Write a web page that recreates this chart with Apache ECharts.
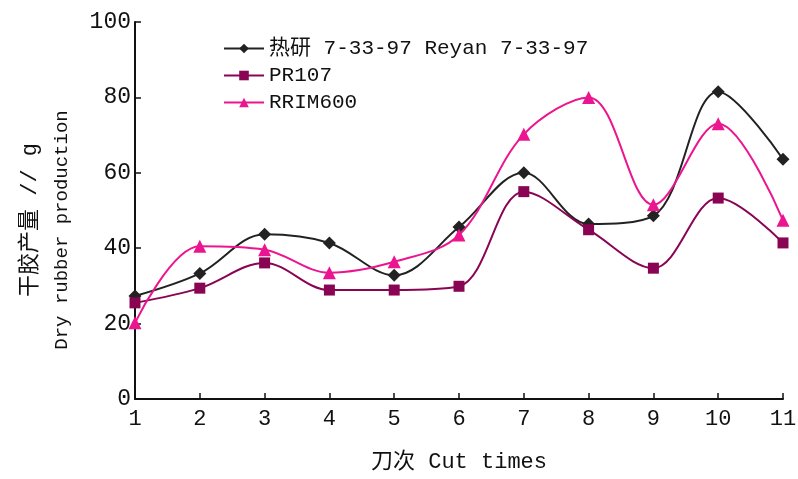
<!DOCTYPE html>
<html lang="zh">
<head>
    <meta charset="UTF-8">
    <title>干胶产量</title>
    <script src="https://cdn.jsdelivr.net/npm/echarts@6/dist/echarts.min.js"></script>
    <style>
        html, body { margin: 0; padding: 0; background: #fff; }
        #main { width: 798px; height: 479px; }
    </style>
</head>
<body>
    <div id="main"></div>
    <script>
        // 刀次
        var cutTimes = ['1', '2', '3', '4', '5', '6', '7', '8', '9', '10', '11'];
        // 各品系干胶产量 (g)
        var reyan = [27.3, 33.3, 43.7, 41.4, 32.8, 45.6, 60, 46.4, 48.6, 81.5, 63.6];
        var pr107 = [25.5, 29.4, 36.1, 28.9, 28.9, 29.9, 55, 44.9, 34.7, 53.3, 41.4];
        var rrim600 = [20.2, 40.5, 39.6, 33.5, 36.4, 43.5, 70.2, 80, 51.5, 73, 47.4];
        var seriesNames = ['热研 7-33-97 Reyan 7-33-97', 'PR107', 'RRIM600'];
        var yNameCn = '干胶产量 // g';
        var yNameEn = 'Dry rubber production';

        var fontFamily = "'Liberation Mono', 'Noto Sans CJK SC', monospace";
        var myChart = echarts.init(document.getElementById('main'));

        function line(name, data, color, symbol, size) {
            return {
                name: name,
                type: 'line',
                data: data,
                smooth: 0.35,
                symbol: symbol,
                symbolSize: size,
                lineStyle: { color: color, width: 2 },
                itemStyle: { color: color },
                emphasis: { disabled: true }
            };
        }

        // 纵轴标题（两行，竖排）
        function vText(text, x, y, size) {
            return {
                type: 'text',
                x: x,
                y: y,
                rotation: Math.PI / 2,
                style: {
                    text: text,
                    fill: '#111',
                    font: size + 'px ' + fontFamily,
                    align: 'center',
                    verticalAlign: 'middle'
                }
            };
        }

        var option = {
            animation: false,
            grid: { left: 135, right: 15, top: 22, bottom: 80, outerBoundsMode: 'none' },
            legend: {
                orient: 'vertical',
                left: 218,
                top: 33,
                itemWidth: 40,
                itemHeight: 12,
                itemGap: 6,
                textStyle: { fontFamily: fontFamily, fontSize: 21, color: '#111' },
                data: seriesNames
            },
            graphic: [
                vText(yNameCn, 30, 220, 22),
                vText(yNameEn, 62, 230, 19)
            ],
            xAxis: {
                type: 'category',
                data: cutTimes,
                boundaryGap: false,
                name: '刀次 Cut times',
                nameLocation: 'middle',
                nameGap: 52,
                nameTextStyle: { fontFamily: fontFamily, fontSize: 22, color: '#111' },
                axisLine: { lineStyle: { color: '#111', width: 2 } },
                axisTick: { inside: true, length: 6, lineStyle: { color: '#111', width: 1.5 } },
                axisLabel: { fontFamily: fontFamily, fontSize: 22, color: '#111', margin: 9 },
                splitLine: { show: false }
            },
            yAxis: {
                type: 'value',
                min: 0,
                max: 100,
                interval: 20,
                axisLine: { show: true, lineStyle: { color: '#111', width: 2 } },
                axisTick: { show: true, inside: true, length: 6, lineStyle: { color: '#111', width: 1.5 } },
                axisLabel: { fontFamily: fontFamily, fontSize: 23, color: '#111', margin: 4 },
                splitLine: { show: false }
            },
            series: [
                line(seriesNames[0], reyan, '#222222', 'diamond', 13),
                line(seriesNames[1], pr107, '#8a0454', 'rect', 11),
                line(seriesNames[2], rrim600, '#ec1590', 'triangle', 13)
            ]
        };
        myChart.setOption(option);
    </script>
</body>
</html>
